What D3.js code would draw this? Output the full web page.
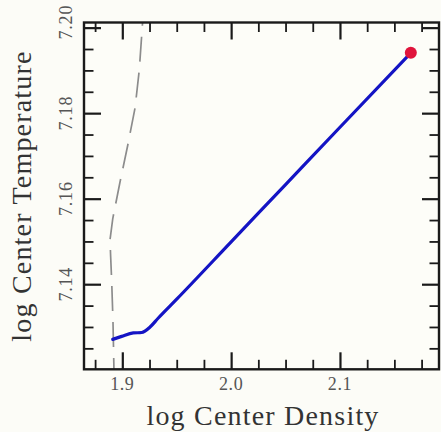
<!DOCTYPE html>
<html>
<head>
<meta charset="utf-8">
<script src="https://cdn.jsdelivr.net/npm/d3@7"></script>
<style>
  html, body { margin: 0; padding: 0; background: #fcfcf7; }
  svg { display: block; }
  text { font-family: "Liberation Serif", "DejaVu Serif", serif; }
</style>
</head>
<body>
<svg id="chart" width="441" height="432"></svg>
<script>
// ---- data ----
const trackDensity = [1.8912, 1.8994, 1.9101, 1.9178, 1.9255, 1.9331, 1.95, 2.0, 2.05, 2.1, 2.1651];
const trackTemperature = [7.1271, 7.1278, 7.1286, 7.1287, 7.1300, 7.1321, 7.1365, 7.1499, 7.1633, 7.1767, 7.1941];
const refDensity = [1.9192, 1.9186, 1.9156, 1.9117, 1.9050, 1.8979, 1.8912, 1.8887, 1.8893, 1.8902, 1.8914, 1.8923, 1.8925];
const refTemperature = [7.2030, 7.2011, 7.1901, 7.1812, 7.1725, 7.1639, 7.1553, 7.1504, 7.1464, 7.1410, 7.1317, 7.1202, 7.1180];
const currentDensity = [2.1651];
const currentTemperature = [7.1941];
const xMajorTicks = [1.9, 2.0, 2.1];
const xTickLabels = ["1.9", "2.0", "2.1"];
const xMinorTicks = [1.875, 1.925, 1.95, 1.975, 2.025, 2.05, 2.075, 2.125, 2.15, 2.175];
const yMajorTicks = [7.14, 7.16, 7.18, 7.20];
const yTickLabels = ["7.14", "7.16", "7.18", "7.20"];
const yMinorTicks = [7.125, 7.13, 7.135, 7.145, 7.15, 7.155, 7.165, 7.17, 7.175, 7.185, 7.19, 7.195];
const xTitle = "log Center Density";
const yTitle = "log Center Temperature";

// ---- layout ----
const L = 84, R = 439, T = 22.5, B = 369.3;
const svg = d3.select("#chart");
const x = d3.scaleLinear().domain([1.8648, 2.191]).range([L, R]);
const y = d3.scaleLinear().domain([7.1201, 7.2012]).range([B, T]);

svg.append("rect").attr("x", L).attr("y", T).attr("width", R - L).attr("height", B - T)
  .attr("fill", "#fdfdf8");

svg.append("clipPath").attr("id", "clip").append("rect")
  .attr("x", L).attr("y", T).attr("width", R - L).attr("height", B - T);

// ---- axes (inward ticks on all sides) ----
function styleAxis(g, w) {
  g.select(".domain").remove();
  g.selectAll(".tick line").attr("stroke", "#1a1a1a").attr("stroke-width", w);
  g.selectAll(".tick text").remove();
}
const MAJ = 17, MIN = 9.5;
const axes = [
  [d3.axisBottom(x), `translate(0,${B})`, xMajorTicks, xMinorTicks],
  [d3.axisTop(x), `translate(0,${T})`, xMajorTicks, xMinorTicks],
  [d3.axisLeft(y), `translate(${L},0)`, yMajorTicks, yMinorTicks],
  [d3.axisRight(y), `translate(${R},0)`, yMajorTicks, yMinorTicks]
];
axes.forEach(([ax, tr, maj, min]) => {
  const a1 = ax.copy ? ax : ax;
  svg.append("g").attr("transform", tr)
    .call(ax.tickValues(maj).tickSize(-MAJ).tickFormat(""))
    .call(g => styleAxis(g, 2.2));
  svg.append("g").attr("transform", tr)
    .call(ax.tickValues(min).tickSize(-MIN).tickFormat(""))
    .call(g => styleAxis(g, 1.8));
});

// ---- tick labels ----
svg.append("g").selectAll("text").data(xMajorTicks).join("text")
  .attr("x", d => x(d)).attr("y", 390)
  .attr("text-anchor", "middle").attr("font-size", 18).attr("fill", "#555")
  .attr("letter-spacing", 0.6)
  .text((d, i) => xTickLabels[i]);

svg.append("g").selectAll("text").data(yMajorTicks).join("text")
  .attr("transform", (d, i) => `translate(72,${y(d) - (i === yMajorTicks.length - 1 ? 5.5 : 0)}) rotate(-90)`)
  .attr("text-anchor", "middle").attr("font-size", 18).attr("fill", "#555")
  .attr("letter-spacing", 0.8)
  .text((d, i) => yTickLabels[i]);

// ---- titles ----
svg.append("text").attr("x", 263).attr("y", 425)
  .attr("text-anchor", "middle").attr("font-size", 28).attr("fill", "#333")
  .attr("letter-spacing", 1.2).text(xTitle);
svg.append("text").attr("transform", "translate(31,196) rotate(-90)")
  .attr("text-anchor", "middle").attr("font-size", 28).attr("fill", "#333")
  .attr("letter-spacing", 1.2).text(yTitle);

// ---- series ----
const plot = svg.append("g").attr("clip-path", "url(#clip)");
const refPts = refDensity.map((d, i) => [d, refTemperature[i]]);
const trackPts = trackDensity.map((d, i) => [d, trackTemperature[i]]);
const line = d3.line().x(d => x(d[0])).y(d => y(d[1])).curve(d3.curveLinear);

plot.append("path").datum(refPts).attr("d", line)
  .attr("fill", "none").attr("stroke", "#8c8c8c").attr("stroke-width", 1.7)
  .attr("stroke-dasharray", "25,11").attr("stroke-dashoffset", 14);

plot.append("path").datum(trackPts).attr("d", d3.line().x(d => x(d[0])).y(d => y(d[1])).curve(d3.curveMonotoneX))
  .attr("fill", "none").attr("stroke", "#1414c4").attr("stroke-width", 3.2)
  .attr("stroke-linejoin", "round").attr("stroke-linecap", "round");

svg.append("g").selectAll("circle").data(currentDensity).join("circle")
  .attr("cx", d => x(d)).attr("cy", (d, i) => y(currentTemperature[i]))
  .attr("r", 6).attr("fill", "#e0143c");

// ---- frame ----
svg.append("rect").attr("x", L).attr("y", T).attr("width", R - L).attr("height", B - T)
  .attr("fill", "none").attr("stroke", "#1a1a1a").attr("stroke-width", 2.4);
</script>
</body>
</html>
